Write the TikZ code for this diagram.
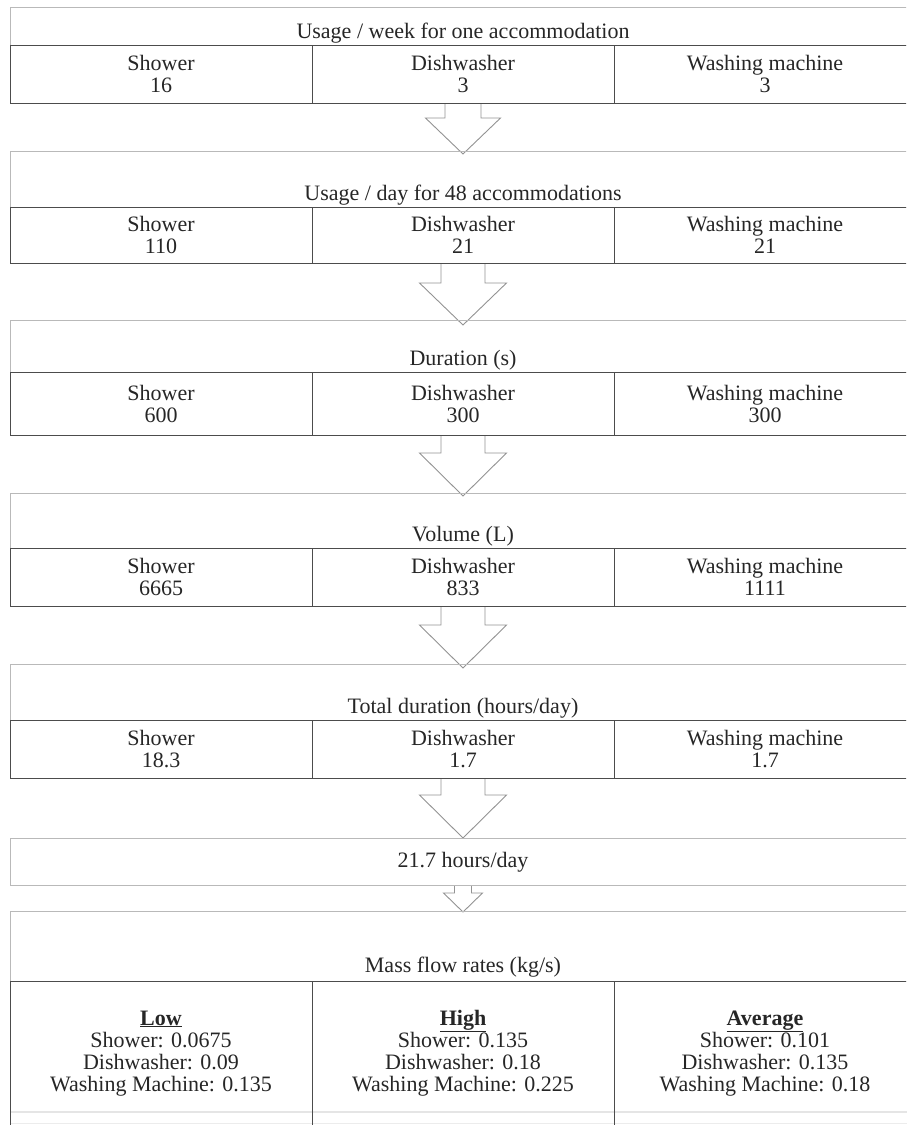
\documentclass[tikz,border=0pt]{standalone}
\usepackage{fontspec}
\setmainfont{Liberation Serif}
\usepackage{tikz}
\usepackage{xcolor}
\usetikzlibrary{shapes,arrows,positioning,backgrounds,calc}

\newcommand{\boxfont}{\fontsize{22}{22}\selectfont\lineskiplimit=-50pt\relax}

\tikzset{
    headbox/.style={rectangle, draw=gray!55, line width=1pt, minimum width=906pt,
        inner sep=0pt, outer sep=0pt, text depth=7pt},
    cellbox/.style={rectangle, draw=black!70, line width=1pt, minimum width=302pt,
        inner sep=0pt, outer sep=0pt, align=center},
    flowarrow/.style={draw=gray!85, fill=white, line width=0.9pt, line join=miter}
}

\begin{document}
\begin{tikzpicture}[x=1pt, y=-1pt, font=\boxfont, text=black!85]
    \useasboundingbox (0,0) rectangle (906,1125);
    \clip (0,0) rectangle (906,1125);

    % Usage per week
    \node[headbox, text height=31pt, anchor=north] (week) at (463,7) {Usage / week for one accommodation};
    \node[cellbox, minimum height=58pt, below=0pt of week] (weekdish) {Dishwasher\\3};
    \node[cellbox, minimum height=58pt, left=0pt of weekdish] (weekshower) {Shower\\16};
    \node[cellbox, minimum height=58pt, right=0pt of weekdish] (weekwash) {Washing machine\\3};

    % Usage per day
    \node[headbox, text height=49pt, anchor=north] (day) at (463,151) {Usage / day for 48 accommodations};
    \node[cellbox, minimum height=56pt, below=0pt of day] (daydish) {Dishwasher\\21};
    \node[cellbox, minimum height=56pt, left=0pt of daydish] (dayshower) {Shower\\110};
    \node[cellbox, minimum height=56pt, right=0pt of daydish] (daywash) {Washing machine\\21};

    % Duration
    \node[headbox, text height=45pt, anchor=north] (dur) at (463,320) {Duration (s)};
    \node[cellbox, minimum height=63pt, below=0pt of dur] (durdish) {Dishwasher\\300};
    \node[cellbox, minimum height=63pt, left=0pt of durdish] (durshower) {Shower\\600};
    \node[cellbox, minimum height=63pt, right=0pt of durdish] (durwash) {Washing machine\\300};

    % Volume
    \node[headbox, text height=48pt, anchor=north] (vol) at (463,493) {Volume (L)};
    \node[cellbox, minimum height=58pt, below=0pt of vol] (voldish) {Dishwasher\\833};
    \node[cellbox, minimum height=58pt, left=0pt of voldish] (volshower) {Shower\\6665};
    \node[cellbox, minimum height=58pt, right=0pt of voldish] (volwash) {Washing machine\\1111};

    % Total duration
    \node[headbox, text height=49pt, anchor=north] (total) at (463,664) {Total duration (hours/day)};
    \node[cellbox, minimum height=58pt, below=0pt of total] (totaldish) {Dishwasher\\1.7};
    \node[cellbox, minimum height=58pt, left=0pt of totaldish] (totalshower) {Shower\\18.3};
    \node[cellbox, minimum height=58pt, right=0pt of totaldish] (totalwash) {Washing machine\\1.7};

    % Sum
    \node[headbox, text height=29pt, text depth=18pt, anchor=north] (sum) at (463,838) {21.7 hours/day};

    % Mass flow rates
    \node[headbox, text height=61pt, text depth=9pt, anchor=north] (flow) at (463,911) {Mass flow rates (kg/s)};
    \node[cellbox, text height=110pt, text depth=49pt, below=0pt of flow] (flowhigh) {
        \textbf{\underline{High}}\\
        Shower: 0.135\\
        Dishwasher: 0.18\\
        Washing Machine: 0.225};
    \node[cellbox, text height=110pt, text depth=49pt, left=0pt of flowhigh] (flowlow) {
        \textbf{\underline{Low}}\\
        Shower: 0.0675\\
        Dishwasher: 0.09\\
        Washing Machine: 0.135};
    \node[cellbox, text height=110pt, text depth=49pt, right=0pt of flowhigh] (flowavg) {
        \textbf{\underline{Average}}\\
        Shower: 0.101\\
        Dishwasher: 0.135\\
        Washing Machine: 0.18};

    % Arrows between the stages
    \begin{scope}[on background layer]
        \draw[flowarrow] ([xshift=-18pt]weekdish.south) -- ([xshift=-18pt,yshift=33pt]day.north)
            -- ([xshift=-37.5pt,yshift=33pt]day.north) -- ([yshift=-3pt]day.north)
            -- ([xshift=37.5pt,yshift=33pt]day.north) -- ([xshift=18pt,yshift=33pt]day.north)
            -- ([xshift=18pt]weekdish.south);
        \draw[flowarrow] ([xshift=-22pt]daydish.south) -- ([xshift=-22pt,yshift=37pt]dur.north)
            -- ([xshift=-43.5pt,yshift=37pt]dur.north) -- ([yshift=-5pt]dur.north)
            -- ([xshift=43.5pt,yshift=37pt]dur.north) -- ([xshift=22pt,yshift=37pt]dur.north)
            -- ([xshift=22pt]daydish.south);
        \draw[flowarrow] ([xshift=-22pt]durdish.south) -- ([xshift=-22pt,yshift=40pt]vol.north)
            -- ([xshift=-43.5pt,yshift=40pt]vol.north) -- ([yshift=-3pt]vol.north)
            -- ([xshift=43.5pt,yshift=40pt]vol.north) -- ([xshift=22pt,yshift=40pt]vol.north)
            -- ([xshift=22pt]durdish.south);
        \draw[flowarrow] ([xshift=-22pt]voldish.south) -- ([xshift=-22pt,yshift=39pt]total.north)
            -- ([xshift=-43.5pt,yshift=39pt]total.north) -- ([yshift=-4pt]total.north)
            -- ([xshift=43.5pt,yshift=39pt]total.north) -- ([xshift=22pt,yshift=39pt]total.north)
            -- ([xshift=22pt]voldish.south);
        \draw[flowarrow] ([xshift=-22pt]totaldish.south) -- ([xshift=-22pt,yshift=43pt]sum.north)
            -- ([xshift=-43.5pt,yshift=43pt]sum.north) -- (sum.north)
            -- ([xshift=43.5pt,yshift=43pt]sum.north) -- ([xshift=22pt,yshift=43pt]sum.north)
            -- ([xshift=22pt]totaldish.south);
        \draw[flowarrow] ([xshift=-8.5pt]sum.south) -- ([xshift=-8.5pt,yshift=18pt]flow.north)
            -- ([xshift=-19.5pt,yshift=18pt]flow.north) -- ([yshift=-1pt]flow.north)
            -- ([xshift=19.5pt,yshift=18pt]flow.north) -- ([xshift=8.5pt,yshift=18pt]flow.north)
            -- ([xshift=8.5pt]sum.south);

        % faint rules across the bottom
        \draw[gray!20, line width=2pt] ([yshift=-131pt]flowlow.north west) -- ([yshift=-131pt]flowavg.north east);
        \draw[gray!15, line width=1pt] ([yshift=-142pt]flowlow.north west) -- ([yshift=-142pt]flowavg.north east);
    \end{scope}
\end{tikzpicture}
\end{document}
